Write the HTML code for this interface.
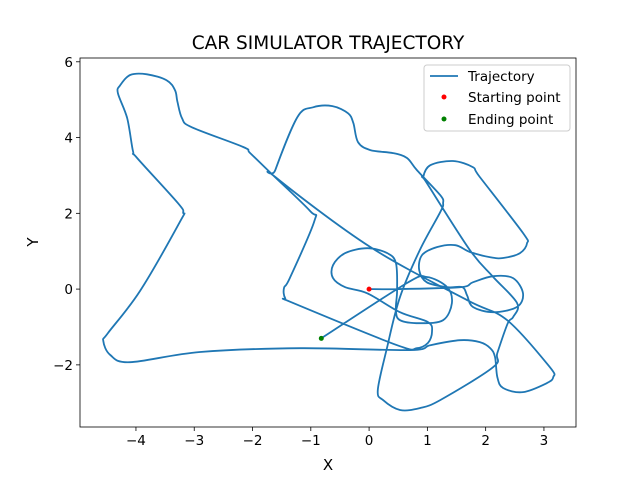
<!DOCTYPE html>
<html><head><meta charset="utf-8"><style>
body{margin:0;background:#fff;}
svg{display:block;font-family:"DejaVu Sans","Liberation Sans",sans-serif;}
</style></head><body>
<svg id="chart" width="640" height="480">
<rect width="640" height="480" fill="#fff"/>
<text x="328" y="49" font-size="18.5" text-anchor="middle">CAR SIMULATOR TRAJECTORY</text>
<g id="plot"></g>
<text x="328" y="470" font-size="15" text-anchor="middle">X</text>
<text x="38" y="242" font-size="15" text-anchor="middle" transform="rotate(-90 38 242)">Y</text>
<g>
<rect x="424" y="65" width="146" height="66" rx="3" fill="#fff" fill-opacity="0.8" stroke="#ccc"/>
<line x1="430" y1="76" x2="458" y2="76" stroke="#1f77b4" stroke-width="1.8"/>
<text x="468" y="81" font-size="13.5">Trajectory</text>
<circle cx="444" cy="97" r="2.5" fill="red"/>
<text x="468" y="102" font-size="13.5">Starting point</text>
<circle cx="444" cy="119" r="2.5" fill="green"/>
<text x="468" y="124" font-size="13.5">Ending point</text>
</g>
</svg>
<script>
const xTicks=[-4,-3,-2,-1,0,1,2,3];
const yTicks=[-2,0,2,4,6];
const trajX=[0,0.48,1.56,1.78,2.13,2.47,2.64,2.54,2.13,1.78,1.68,1.60,1.34,0.99,0.86,0.91,1.17,1.48,1.73,2.08,2.30,2.59,2.71,2.64,1.90,1.78,1.44,1.05,0.93,0.99,1.73,2.13,2.54,2.47,2.38,2.20,2.13,1.22,0.87,0.53,0.24,0.15,0.31,0.53,0.87,1.22,1.27,1.22,0.82,0.65,0.41,0.02,-0.19,-0.27,-0.36,-0.63,-0.96,-1.23,-1.61,-1.61,0.02,1.68,2.37,3.10,3.16,3.05,2.64,2.30,2.20,2.16,2.08,1.90,1.56,1.05,0.70,-1.18,-2.90,-4.10,-4.44,-4.56,-4.48,-3.93,-3.24,-3.19,-3.28,-3.98,-4.05,-4.15,-4.31,-4.27,-4.10,-3.81,-3.47,-3.33,-3.29,-3.21,-3.04,-2.16,-2.04,-1.65,-1.01,-0.94,-1.36,-1.46,-1.44,-1.30,0.48,0.82,1.01,1.08,1.01,0.53,-0.03,-0.41,-0.62,-0.62,-0.41,-0.03,0.31,0.46,0.48,0.46,0.53,0.87,1.27,1.42,1.34,0.99,0.65,-0.82];
const trajY=[0,0,0.05,0.18,0.34,0.29,-0.11,-0.47,-0.61,-0.47,-0.16,0.05,0.05,0.18,0.50,0.90,1.11,1.16,0.98,0.84,0.82,0.95,1.21,1.48,2.96,3.22,3.38,3.27,2.96,2.80,1.03,0.32,-0.37,-0.74,-0.90,-1.69,-2.06,-2.93,-3.14,-3.19,-2.93,-2.66,-1.53,-0.21,1.03,2.03,2.27,2.48,3.14,3.46,3.59,3.67,3.88,4.38,4.64,4.83,4.80,4.54,3.14,2.96,1.11,-0.29,-0.82,-2.06,-2.32,-2.48,-2.72,-2.61,-2.32,-1.79,-1.56,-1.40,-1.35,-1.48,-1.61,-1.56,-1.66,-1.93,-1.74,-1.37,-1.16,-0.05,1.79,2.01,2.27,3.46,3.64,4.51,5.17,5.38,5.65,5.67,5.51,5.25,4.96,4.51,4.27,3.75,3.59,3.01,2.06,1.79,0.29,0.03,-0.24,-0.37,-1.48,-1.56,-1.42,-1.13,-0.87,-0.61,-0.11,0.05,0.29,0.63,0.95,1.08,0.95,0.69,-0.03,-0.55,-0.82,-0.90,-0.82,-0.37,0.05,0.32,0.16,-1.30];
const startPt=[0,0];
const endPt=[-0.82,-1.30];

const L=80,R=576,T=58,B=427;
const xMin=-4.96,xMax=3.55,yMin=-3.64,yMax=6.10;
const sx=v=>L+(v-xMin)/(xMax-xMin)*(R-L);
const sy=v=>B-(v-yMin)/(yMax-yMin)*(B-T);
const NS='http://www.w3.org/2000/svg';
const g=document.getElementById('plot');
function mk(t,a){const e=document.createElementNS(NS,t);for(const k in a)e.setAttribute(k,a[k]);g.appendChild(e);return e;}

xTicks.forEach(v=>{
  const x=sx(v);
  const t=mk('line',{x1:x,y1:B,x2:x,y2:B+4,stroke:'#000','stroke-width':0.8});
  
  
  const l=mk('text',{x:x,y:B+18,'font-size':13.5,'text-anchor':'middle'});
  l.textContent=(v<0?'\u2212'+(-v):v);
  
  
});
yTicks.forEach(v=>{
  const y=sy(v);
  const t=mk('line',{x1:L-4,y1:y,x2:L,y2:y,stroke:'#000','stroke-width':0.8});
  
  
  const l=mk('text',{x:L-7,y:y+5,'font-size':13.5,'text-anchor':'end'});
  l.textContent=(v<0?'\u2212'+(-v):v);
  
  
});

const P=trajX.map((v,i)=>[sx(v),sy(trajY[i])]);
let d='M'+P[0][0].toFixed(1)+' '+P[0][1].toFixed(1);
for(let i=0;i<P.length-1;i++){
  const p0=P[Math.max(0,i-1)],p1=P[i],p2=P[i+1],p3=P[Math.min(P.length-1,i+2)];
  const c1=[p1[0]+(p2[0]-p0[0])/6,p1[1]+(p2[1]-p0[1])/6];
  const c2=[p2[0]-(p3[0]-p1[0])/6,p2[1]-(p3[1]-p1[1])/6];
  d+='C'+c1[0].toFixed(1)+' '+c1[1].toFixed(1)+' '+c2[0].toFixed(1)+' '+c2[1].toFixed(1)+' '+p2[0].toFixed(1)+' '+p2[1].toFixed(1);
}
const p=mk('path',{d:d,fill:'none',stroke:'#1f77b4','stroke-width':1.8,'stroke-linejoin':'round','stroke-linecap':'round'});



const s=mk('circle',{cx:sx(startPt[0]),cy:sy(startPt[1]),r:2.5,fill:'red'});


const e=mk('circle',{cx:sx(endPt[0]),cy:sy(endPt[1]),r:2.5,fill:'green'});



const fr=mk('rect',{x:L,y:T,width:R-L,height:B-T,fill:'none',stroke:'#000','stroke-width':0.8});


</script>
</body></html>
